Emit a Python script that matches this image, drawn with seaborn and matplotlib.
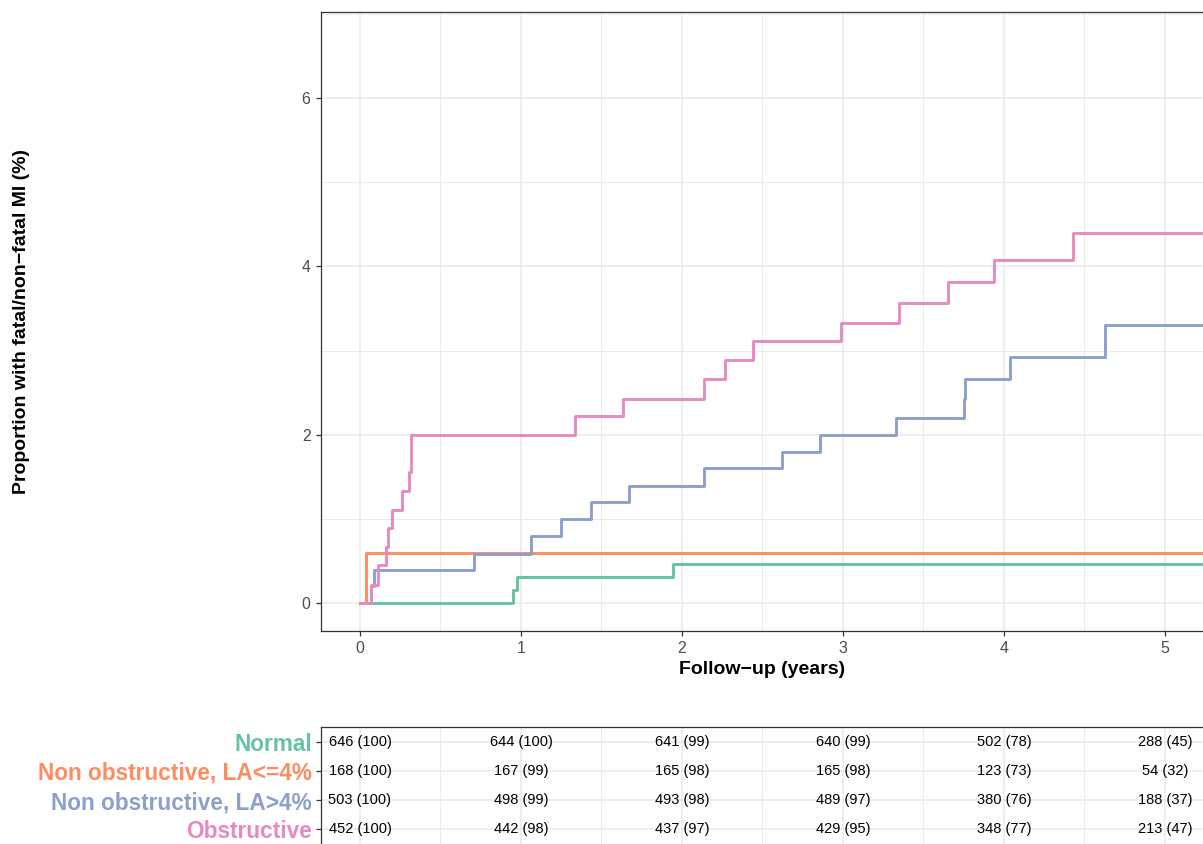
"""
Cumulative incidence of fatal/non-fatal MI by CAD group, with numbers at risk
"""
import matplotlib
matplotlib.use('Agg')
import matplotlib.pyplot as plt
import numpy as np
import pandas as pd
import seaborn as sns

sns.set_style('white')
plt.rcParams['font.family'] = ['Liberation Sans', 'DejaVu Sans']

# ----------------------------------------------------------------------------
# Data (step-post)
# ----------------------------------------------------------------------------
groups = ['Normal', 'Non obstructive, LA<=4%', 'Non obstructive, LA>4%', 'Obstructive']
colors = ['#66C2A5', '#FC8D62', '#8DA0CB', '#E78AC3']

normal_t = [0, 0.95, 0.975, 1.946, 5.5]
normal_y = [0, 0.155, 0.31, 0.465, 0.465]

nonobs_low_t = [0, 0.035, 5.5]
nonobs_low_y = [0, 0.595, 0.595]

nonobs_high_t = [0, 0.068, 0.09, 0.71, 1.062, 1.247, 1.437, 1.671, 2.139,
                 2.623, 2.857, 3.33, 3.75, 3.76, 4.04, 4.63, 5.5]
nonobs_high_y = [0, 0.20, 0.40, 0.59, 0.80, 1.00, 1.20, 1.39, 1.60,
                 1.80, 2.00, 2.20, 2.42, 2.66, 2.92, 3.30, 3.30]

obstructive_t = [0, 0.068, 0.11, 0.159, 0.172, 0.197, 0.259, 0.304, 0.315,
                 1.337, 1.636, 2.139, 2.27, 2.44, 2.99, 3.35, 3.65, 3.94, 4.43, 5.5]
obstructive_y = [0, 0.22, 0.45, 0.67, 0.89, 1.11, 1.33, 1.56, 2.00,
                 2.22, 2.43, 2.66, 2.89, 3.11, 3.33, 3.56, 3.81, 4.07, 4.39, 4.39]

# numbers at risk (n, %) at years 0..5
risk_times = [0, 1, 2, 3, 4, 5]
risk_normal = ['646 (100)', '644 (100)', '641 (99)', '640 (99)', '502 (78)', '288 (45)']
risk_nonobs_low = ['168 (100)', '167 (99)', '165 (98)', '165 (98)', '123 (73)', '54 (32)']
risk_nonobs_high = ['503 (100)', '498 (99)', '493 (98)', '489 (97)', '380 (76)', '188 (37)']
risk_obstructive = ['452 (100)', '442 (98)', '437 (97)', '429 (95)', '348 (77)', '213 (47)']

# ----------------------------------------------------------------------------
# Build long tables
# ----------------------------------------------------------------------------
curves = pd.concat([
    pd.DataFrame({'time': t, 'pct': y, 'group': g})
    for g, t, y in zip(groups,
                       [normal_t, nonobs_low_t, nonobs_high_t, obstructive_t],
                       [normal_y, nonobs_low_y, nonobs_high_y, obstructive_y])
], ignore_index=True)

risk = pd.concat([
    pd.DataFrame({'time': risk_times, 'label': r, 'row': i + 1})
    for i, r in enumerate([risk_normal, risk_nonobs_low, risk_nonobs_high, risk_obstructive])
], ignore_index=True)

# ----------------------------------------------------------------------------
# Figure
# ----------------------------------------------------------------------------
W, H = 1203, 844
fig = plt.figure(figsize=(W / 100, H / 100), dpi=100)

x0 = 321 / W
ax = fig.add_axes([x0, 1 - 631 / H, 1 - x0, (631 - 12) / H])
tab = fig.add_axes([x0, 0, 1 - x0, (844 - 727) / H])

grid_col = '#EBEBEB'
frame_col = '#333333'
xlim = (-0.242, 5.236)

# main curves
sns.lineplot(data=curves, x='time', y='pct', hue='group', hue_order=groups,
             palette=colors, drawstyle='steps-post', estimator=None, sort=False,
             linewidth=2.1, legend=False, ax=ax, zorder=3)

ax.set_xlim(*xlim)
ax.set_ylim(-0.33, 7.02)
ax.set_xticks([0, 1, 2, 3, 4, 5])
ax.set_xticks(np.arange(0.5, 5.5, 1), minor=True)
ax.set_yticks([0, 2, 4, 6])
ax.set_yticks([1, 3, 5, 7], minor=True)
ax.grid(True, which='major', color=grid_col, linewidth=1.2)
ax.grid(True, which='minor', color=grid_col, linewidth=0.7)
ax.set_axisbelow(True)
ax.tick_params(axis='both', which='major', length=3.5, width=0.9, color=frame_col,
               labelsize=11.5, labelcolor='#4D4D4D', direction='out', pad=4,
               bottom=True, left=True)
ax.tick_params(which='minor', length=0)
for s in ['left', 'top', 'bottom']:
    ax.spines[s].set_color(frame_col)
    ax.spines[s].set_linewidth(0.9)
ax.spines['right'].set_visible(False)

ax.set_xlabel('Follow\u2212up (years)', fontsize=14, fontweight='bold',
              color='black', labelpad=3)
ax.set_ylabel('')
fig.text(22 / W, 1 - 321 / H, 'Proportion with fatal/non\u2212fatal MI (%)',
         rotation=90, ha='center', va='center', fontsize=14, fontweight='bold',
         color='black')

# numbers-at-risk table
for _, r in risk.iterrows():
    tab.text(r['time'], r['row'], r['label'], ha='center', va='center',
             fontsize=10.5, color='black')

tab.set_xlim(*xlim)
tab.set_ylim(4.5, 0.5)
tab.set_xticks([0, 1, 2, 3, 4, 5])
tab.set_xticks(np.arange(0.5, 5.5, 1), minor=True)
tab.set_yticks([1, 2, 3, 4])
tab.set_yticklabels(groups)
for lbl, c in zip(tab.get_yticklabels(), colors):
    lbl.set_color(c)
    lbl.set_fontweight('bold')
    lbl.set_fontsize(16.3)
tab.grid(True, which='major', color=grid_col, linewidth=1.2)
tab.grid(True, which='minor', axis='x', color=grid_col, linewidth=0.7)
tab.set_axisbelow(True)
tab.tick_params(axis='y', length=3.5, width=0.9, color=frame_col, pad=3, left=True)
tab.tick_params(axis='x', which='both', length=0, labelbottom=False)
tab.set_xlabel('')
tab.set_ylabel('')
for s in ['left', 'top']:
    tab.spines[s].set_color(frame_col)
    tab.spines[s].set_linewidth(0.9)
tab.spines['right'].set_visible(False)
tab.spines['bottom'].set_visible(False)

fig.savefig('out.png', dpi=100)
plt.close(fig)
